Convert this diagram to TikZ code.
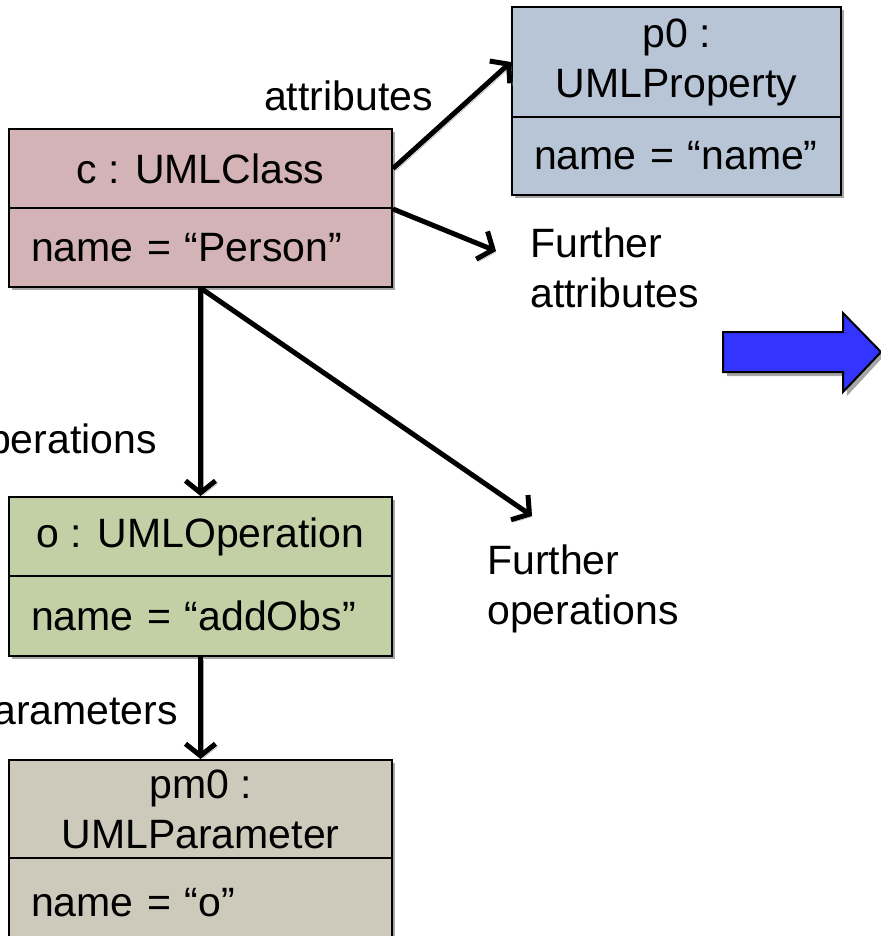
\documentclass[tikz,border=0pt]{standalone}
\usepackage{fontspec}
\setmainfont{Liberation Sans}
\usetikzlibrary{arrows.meta,positioning}

\definecolor{classfill}{HTML}{D3B3B5}
\definecolor{propfill}{HTML}{B7C5D6}
\definecolor{opfill}{HTML}{C3CFA4}
\definecolor{paramfill}{HTML}{CECABB}
\definecolor{bigblue}{HTML}{3434FF}
\definecolor{shadowgray}{HTML}{A6A6A6}

\tikzset{
  txt/.style={font=\fontsize{41}{50}\selectfont, inner sep=0pt},
  comp/.style={draw=black, line width=2pt, anchor=north west,
    minimum width=383pt, inner xsep=22pt, inner ysep=0pt,
    font=\fontsize{41}{50}\selectfont},
  headcomp/.style={comp, align=center},
  bodycomp/.style={comp, text width=339pt, align=left},
  boxshadow/.style={fill=shadowgray},
  conn/.style={line width=5pt, -{Straight Barb[length=12pt,width=30pt]},
    preaction={draw=shadowgray, transform canvas={xshift=2.5pt,yshift=-2.5pt}}},
}

\begin{document}
\begin{tikzpicture}[x=1pt,y=-1pt]
\useasboundingbox (0,0) rectangle (880,936);

% drop shadows behind the object boxes
\fill[boxshadow] (12,132) rectangle (395,290);
\fill[boxshadow] (515,10) rectangle (844,198);
\fill[boxshadow] (12,500) rectangle (395,659);
\fill[boxshadow] (12,763) rectangle (395,940);

% c : UMLClass
\node[headcomp, fill=classfill, minimum height=79pt] (ctop) at (8,128) {c : UMLClass};
\node[bodycomp, fill=classfill, minimum height=79pt] (cbot) at (8,207) {name = “Person”};

% p0 : UMLProperty
\node[headcomp, fill=propfill, minimum width=329pt, minimum height=110pt] (ptop) at (511,6) {p0 :\\UMLProperty};
\node[bodycomp, fill=propfill, minimum width=329pt, text width=285pt, minimum height=78pt] (pbot) at (511,116) {name = “name”};

% o : UMLOperation
\node[headcomp, fill=opfill, minimum height=79pt] (otop) at (8,496) {o : UMLOperation};
\node[bodycomp, fill=opfill, minimum height=80pt] (obot) at (8,575) {name = “addObs”};

% pm0 : UMLParameter
\node[headcomp, fill=paramfill, minimum height=98pt] (pmtop) at (8,759) {pm0 :\\UMLParameter};
\node[bodycomp, fill=paramfill, minimum height=90pt] (pmbot) at (8,857) {name = “o”};

% free ends of the "further" links
\coordinate (moreattr) at (496,251);
\coordinate (moreops) at (532,516);

% links
\draw[conn] (ctop.east) -- (ptop.west);
\draw[conn] (ctop.south east) -- (moreattr);
\draw[conn] (cbot.south) -- (otop.north);
\draw[conn] (cbot.south) -- (moreops);
\draw[conn] (obot.south) -- (pmtop.north);

% link labels
\node[txt, anchor=east] (lattr) at (433,96) {attributes};
\node[txt, anchor=north west, align=left] (lmoreattr) at (530,228) {Further\\attributes};
\node[txt, anchor=east] (lops) at (157,443) {operations};
\node[txt, anchor=north west, align=left] (lmoreops) at (487,545) {Further\\operations};
\node[txt, anchor=east] (lparams) at (178,715) {parameters};

% transformation arrow
\fill[shadowgray] (727,336) -- (847,336) -- (847,317) -- (884,356) -- (847,396) -- (847,376) -- (727,376) -- cycle;
\draw[line width=2pt, fill=bigblue] (723,332) -- (843,332) -- (843,313) -- (881,352) -- (843,392) -- (843,372) -- (723,372) -- cycle;
\end{tikzpicture}
\end{document}
